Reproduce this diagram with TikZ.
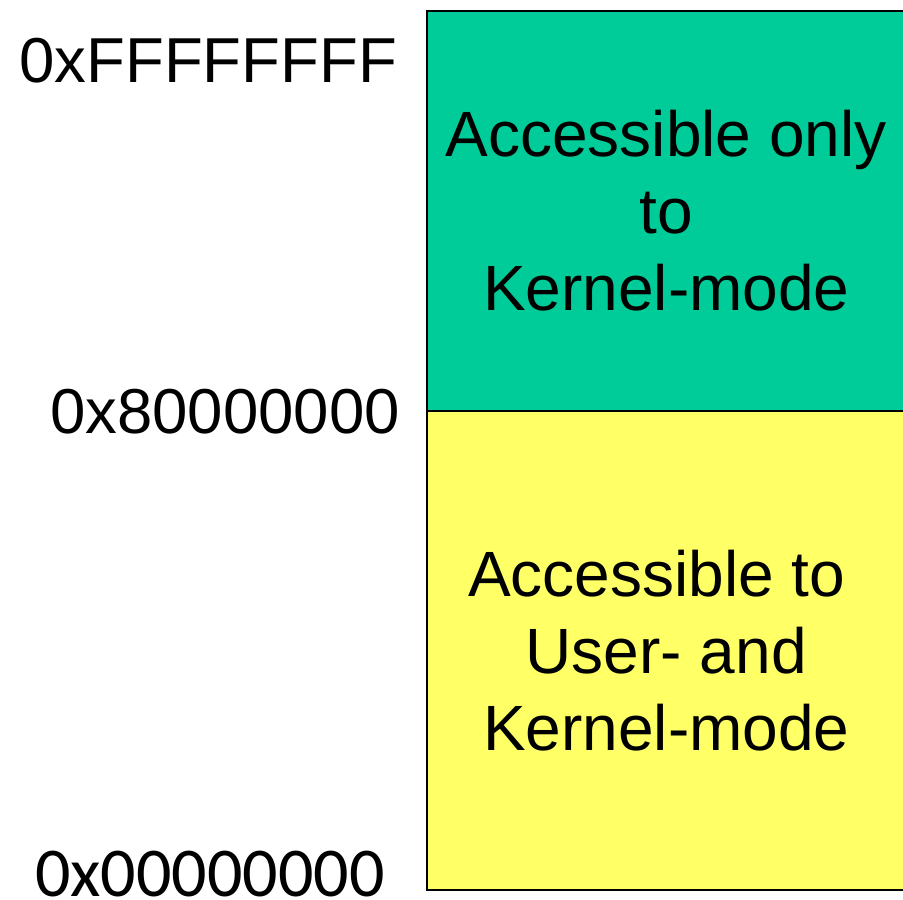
\documentclass[tikz,border=0pt]{standalone}
\usepackage{fontspec}
\setmainfont{Liberation Sans}
\newfontfamily\addrfont{Carlito}
\usetikzlibrary{positioning}
\definecolor{kernelgreen}{HTML}{00CC99}
\definecolor{useryellow}{HTML}{FFFF66}

\begin{document}
\begin{tikzpicture}[x=1pt,y=-1pt,
    region/.style={draw,line width=1.5pt,minimum width=479pt,inner sep=0pt,anchor=north west},
    regiontext/.style={align=center,inner sep=0pt,font=\fontsize{64}{77}\selectfont},
    addr/.style={anchor=base east,inner sep=0pt,font=\fontsize{63.5}{76}\selectfont}]
  \useasboundingbox (0,0) rectangle (903,900);
  \clip (0,0) rectangle (903,900);
  \node (kernel) [region,fill=kernelgreen,minimum height=400pt] at (426,10) {};
  \node (user) [region,fill=useryellow,minimum height=479pt] at (426,410) {};
  \node (kerneltext) [regiontext] at (kernel.center) {Accessible only\\to\\Kernel-mode};
  \node (usertext) [regiontext] at (user.center) {Accessible to\hspace*{0.3em}\\User- and\\Kernel-mode};
  % addresses
  \node (top) [addr] at (397,82) {0xFFFFFFFF};
  \node (mid) [addr] at (400,433) {0x80000000};
  \node (low) [addr,font=\addrfont\fontsize{70}{84}\selectfont] at (385,896) {0x00000000};
\end{tikzpicture}
\end{document}
